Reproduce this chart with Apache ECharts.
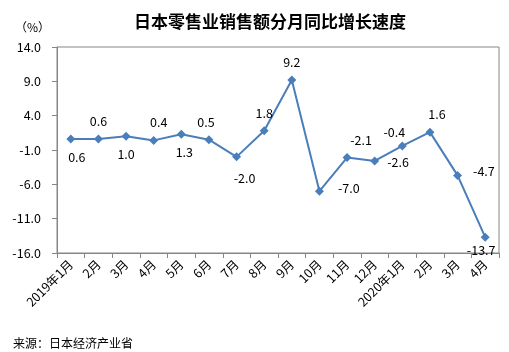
<!DOCTYPE html>
<html>
<head>
<meta charset="utf-8">
<script src="https://cdn.jsdelivr.net/npm/echarts@6/dist/echarts.min.js"></script>
<style>
html, body { margin: 0; padding: 0; background: #fff; }
#main { width: 509px; height: 352px; }
</style>
</head>
<body>
<div id="main"></div>
<script>
var months = ['2019年1月', '2月', '3月', '4月', '5月', '6月', '7月', '8月', '9月', '10月', '11月', '12月', '2020年1月', '2月', '3月', '4月'];
var growth = [0.6, 0.6, 1.0, 0.4, 1.3, 0.5, -2.0, 1.8, 9.2, -7.0, -2.1, -2.6, -0.4, 1.6, -4.7, -13.7];

// label placement for each point (style only)
var labelPlace = ['bottom', 'top', 'bottom', 'top', 'bottom', 'top', 'bottom', 'top', 'top', 'right', 'top', 'right', 'top', 'top', 'right', 'bottom'];
var labelShift = [[6, 0], [0, 0], [0, 0], [5, 0], [3, 0], [-3, 0], [8, 4], [0, 0], [0, 0], [0, -3], [14, 0], [-6, 1], [-8, 4], [7, 0], [-3, -4], [-4, -5]];

var font = '"Microsoft YaHei", "Noto Sans CJK SC", sans-serif';
var seriesData = growth.map(function (v, i) {
    var p = labelPlace[i];
    return {
        value: v,
        label: { position: p, distance: p === 'right' ? 14 : 7, offset: labelShift[i] }
    };
});

var dom = document.getElementById('main');
var myChart = echarts.init(dom, null, { renderer: 'canvas' });
var option = {
    animation: false,
    title: [
        {
            text: '日本零售业销售额分月同比增长速度',
            left: 129,
            top: 8,
            textStyle: { fontSize: 17, fontWeight: 'bold', color: '#000', fontFamily: font }
        },
        {
            text: '（%）',
            left: 10,
            top: 16,
            textStyle: { fontSize: 12, fontWeight: 'normal', color: '#000', fontFamily: font }
        },
        {
            text: '来源：日本经济产业省',
            left: 8,
            top: 332,
            textStyle: { fontSize: 12, fontWeight: 'normal', color: '#000', fontFamily: font }
        }
    ],
    grid: {
        left: 57,
        right: 10,
        top: 47,
        height: 206,
        show: true,
        borderColor: '#868686',
        borderWidth: 1
    },
    xAxis: {
        type: 'category',
        data: months,
        boundaryGap: true,
        axisLine: { onZero: false, lineStyle: { color: '#868686' } },
        axisTick: { show: true, length: 5, lineStyle: { color: '#868686' } },
        axisLabel: { rotate: 45, interval: 0, color: '#000', fontSize: 12.5, fontFamily: font, margin: 9 }
    },
    yAxis: {
        type: 'value',
        min: -16,
        max: 14,
        interval: 5,
        splitLine: { show: false },
        axisLine: { show: true, lineStyle: { color: '#868686' } },
        axisTick: { show: true, length: 5, lineStyle: { color: '#868686' } },
        axisLabel: {
            color: '#000',
            fontSize: 12.5,
            fontFamily: font,
            margin: 16,
            formatter: function (v) { return v.toFixed(1); }
        }
    },
    series: [
        {
            type: 'line',
            data: seriesData,
            symbol: 'diamond',
            symbolSize: 9,
            lineStyle: { color: '#4a7ebb', width: 2 },
            itemStyle: { color: '#4a7ebb' },
            label: {
                show: true,
                color: '#000',
                fontSize: 12.5,
                fontFamily: font,
                formatter: function (p) { return p.value.toFixed(1); }
            }
        }
    ]
};
myChart.setOption(option);
</script>
</body>
</html>
